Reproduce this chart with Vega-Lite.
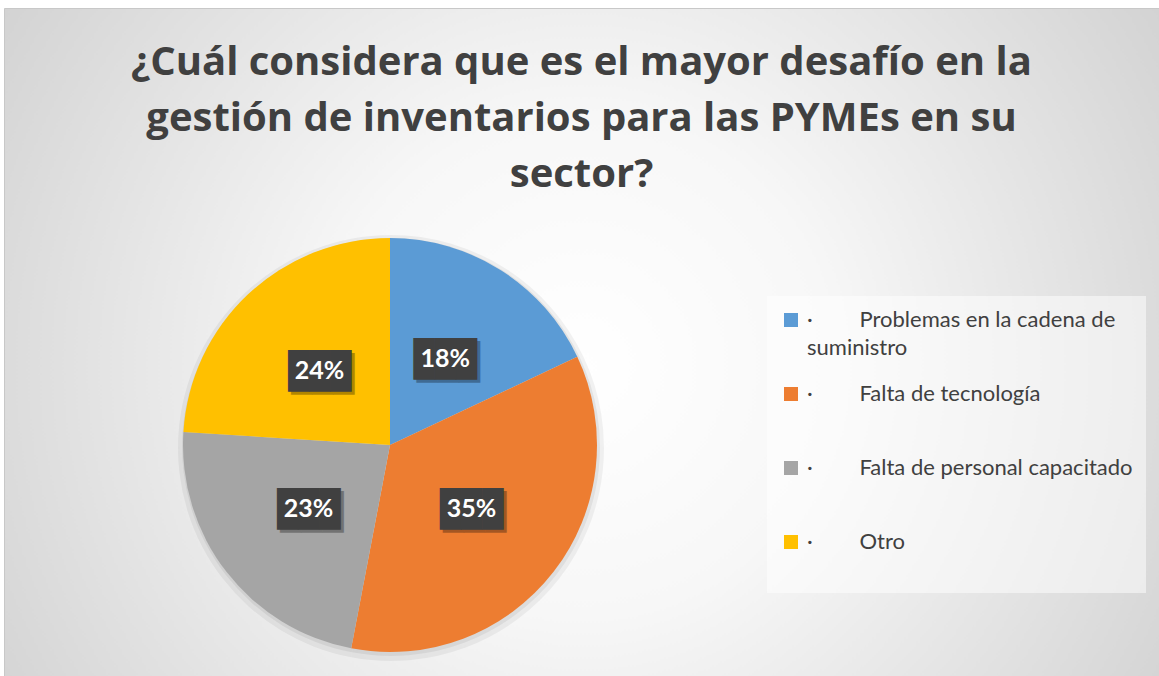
{
  "$schema": "https://vega.github.io/schema/vega-lite/v6.json",
  "width": 1155,
  "height": 668,
  "autosize": {"type": "none"},
  "padding": {"left": 4, "top": 8, "right": 0, "bottom": 0},
  "background": "#ffffff",
  "view": {
    "stroke": "#c8c8c8",
    "strokeWidth": 1,
    "fill": {
      "gradient": "radial",
      "x1": 0.5, "y1": 0.52, "x2": 0.5, "y2": 0.52,
      "r1": 0, "r2": 0.72,
      "stops": [
        {"offset": 0, "color": "#ffffff"},
        {"offset": 0.3, "color": "#f7f7f7"},
        {"offset": 1, "color": "#c6c6c6"}
      ]
    }
  },
  "config": {
    "legend": {
      "orient": "none",
      "legendX": 763,
      "legendY": 288,
      "fillColor": "rgba(255,255,255,0.5)",
      "padding": 13,
      "symbolType": "square",
      "symbolSize": 196,
      "symbolStrokeWidth": 0,
      "labelFont": "Lato",
      "labelFontSize": 22,
      "labelColor": "#404040",
      "labelLimit": 420,
      "labelOffset": 5,
      "rowPadding": 24,
      "gridAlign": "all"
    }
  },
  "title": {
    "text": [
      "¿Cuál considera que es el mayor desafío en la",
      "gestión de inventarios para las PYMEs en su",
      "sector?"
    ],
    "font": "Open Sans",
    "fontSize": 40,
    "fontWeight": "bold",
    "color": "#404040",
    "lineHeight": 56,
    "anchor": "middle",
    "frame": "group",
    "offset": -187
  },
  "data": {
    "values": [
      {"categoria": "Problemas en la cadena de suministro", "valor": 0.18, "orden": 1},
      {"categoria": "Falta de tecnología", "valor": 0.35, "orden": 2},
      {"categoria": "Falta de personal capacitado", "valor": 0.23, "orden": 3},
      {"categoria": "Otro", "valor": 0.24, "orden": 4}
    ]
  },
  "encoding": {
    "theta": {"field": "valor", "type": "quantitative", "stack": true},
    "order": {"field": "orden", "type": "quantitative"}
  },
  "layer": [
    {
      "mark": {"type": "arc", "outerRadius": 213, "x": 387, "y": 440, "color": "#000000", "opacity": 0.05},
      "encoding": {"detail": {"field": "categoria"}}
    },
    {
      "mark": {"type": "arc", "outerRadius": 209, "x": 387, "y": 439, "color": "#000000", "opacity": 0.06},
      "encoding": {"detail": {"field": "categoria"}}
    },
    {
      "mark": {"type": "arc", "outerRadius": 207, "x": 386, "y": 437},
      "encoding": {
        "color": {
          "field": "categoria",
          "type": "nominal",
          "sort": null,
          "scale": {
            "domain": ["Problemas en la cadena de suministro", "Falta de tecnología", "Falta de personal capacitado", "Otro"],
            "range": ["#5B9BD5", "#ED7D31", "#A5A5A5", "#FFC000"]
          },
          "legend": {
            "title": " ",
            "titleOrient": "bottom",
            "titleFontSize": 10,
            "titlePadding": 17,
            "labelExpr": "datum.value == 'Problemas en la cadena de suministro' ? ['·\u2003\u2003\u2002\u2009Problemas en la cadena de', 'suministro'] : '·\u2003\u2003\u2002\u2009' + datum.value",
            "encode": {
              "labels": {"update": {"lineHeight": {"value": 28}}}
            }
          }
        }
      }
    },
    {
      "mark": {"type": "text", "radius": 103, "x": 389, "y": 440, "font": "DejaVu Sans Mono", "fontSize": 35, "color": "#000000", "opacity": 0.3, "baseline": "middle", "dy": 2},
      "encoding": {"detail": {"field": "categoria"}, "text": {"value": "███"}}
    },
    {
      "mark": {"type": "text", "radius": 103, "x": 386, "y": 437, "font": "DejaVu Sans Mono", "fontSize": 35, "color": "#404040", "baseline": "middle", "dy": 2},
      "encoding": {"detail": {"field": "categoria"}, "text": {"value": "███"}}
    },
    {
      "mark": {"type": "text", "radius": 103, "x": 386, "y": 437, "font": "Lato", "fontSize": 25, "fontWeight": "bold", "color": "#ffffff", "baseline": "middle", "dy": 1},
      "encoding": {"detail": {"field": "categoria"}, "text": {"field": "valor", "type": "quantitative", "format": ".0%"}}
    }
  ]
}
